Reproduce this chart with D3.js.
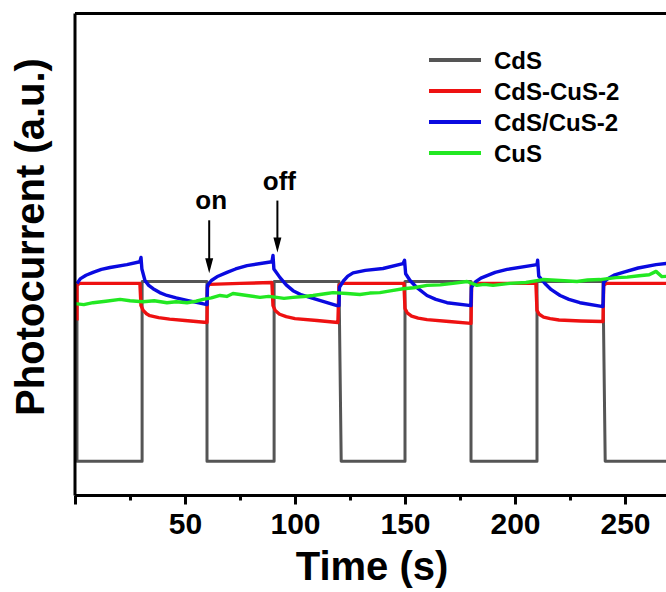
<!DOCTYPE html>
<html>
<head>
<meta charset="utf-8">
<script src="https://cdn.jsdelivr.net/npm/d3@7"></script>
<style>
  body { margin: 0; background: #fff; }
  svg { display: block; font-family: "Liberation Sans", Arial, sans-serif; font-weight: bold; }
</style>
</head>
<body>
<svg width="666" height="592"></svg>
<script>
// series: [time (s), photocurrent (a.u.)]
const seriesNames = ["CdS", "CdS-CuS-2", "CdS/CuS-2", "CuS"];
const seriesColors = ["#555555", "#ee1111", "#0a0ae0", "#22e822"];

const cds = [[0.9, 4.40], [0.9, 0.71], [30.5, 0.71], [30.5, 4.44], [60, 4.44], [60, 0.71], [90.5, 0.71], [90.5, 4.44],
  [120, 4.44], [121, 0.71], [150, 0.71], [150, 4.44], [180, 4.44], [180, 0.71], [210, 0.71], [210, 4.44],
  [240, 4.44], [241, 0.71], [272, 0.71]];

const cdsCus = [[0.9, 3.63], [0.9, 4.36], [2, 4.40], [29.5, 4.40], [30, 3.94], [31, 3.84], [32.5, 3.77], [34, 3.73],
  [38, 3.69], [43, 3.66], [50, 3.63], [60, 3.59], [60.2, 4.32], [61, 4.38], [75, 4.40], [89.5, 4.42], [90, 3.94],
  [91, 3.84], [93, 3.76], [96, 3.71], [100, 3.67], [110, 3.63], [119.5, 3.59], [120, 4.36], [121, 4.40],
  [149.5, 4.40], [150, 3.88], [151, 3.79], [153, 3.72], [156, 3.68], [160, 3.65], [170, 3.61], [180, 3.57],
  [180.3, 4.40], [209.5, 4.40], [210, 3.84], [211, 3.76], [213, 3.70], [216, 3.67], [220, 3.64], [230, 3.62],
  [240, 3.61], [240.3, 4.36], [241.5, 4.40], [272, 4.40]];

const cdsSlashCus = [[0.9, 4.40], [2.5, 4.50], [5, 4.57], [8.2, 4.63], [12, 4.69], [15.9, 4.73], [23.6, 4.79],
  [29.5, 4.85], [30, 4.94], [30.4, 4.70], [31.8, 4.46], [33.5, 4.36], [35.5, 4.29], [38.5, 4.21], [41.8, 4.15],
  [46, 4.10], [50.9, 4.05], [60, 3.96], [60.2, 4.36], [62, 4.46], [65, 4.55], [69.1, 4.63], [73, 4.70], [78.2, 4.77],
  [89.5, 4.85], [90, 4.98], [90.4, 4.70], [93.2, 4.52], [96, 4.37], [99.1, 4.25], [103, 4.16], [108.2, 4.09],
  [119.1, 3.94], [120, 3.94], [120.2, 4.32], [122, 4.45], [124, 4.55], [126.4, 4.62], [132, 4.67], [140, 4.71],
  [149.1, 4.81], [149.8, 4.88], [150.3, 4.60], [152.3, 4.46], [155, 4.33], [160, 4.15], [164, 4.07], [169.1, 4.00],
  [180, 3.94], [180.2, 4.32], [182, 4.43], [184.5, 4.51], [187.3, 4.56], [191, 4.63], [196.4, 4.69], [210, 4.79],
  [210.3, 4.88], [210.8, 4.55], [213.6, 4.40], [216.5, 4.27], [220.5, 4.15], [224.5, 4.07], [229.5, 4.00],
  [240, 3.92], [240.3, 4.42], [242, 4.49], [245, 4.57], [249.1, 4.63], [256, 4.72], [264.1, 4.79], [272, 4.83]];

const cus = [[0, 3.98], [4, 3.96], [8.2, 4.00], [14, 4.03], [20.5, 4.07], [25, 4.04], [30.9, 4.02], [36, 4.04],
  [41.8, 4.00], [46, 4.02], [50.9, 4.00], [55, 4.03], [58.2, 4.07], [62, 4.10], [65.9, 4.15], [69, 4.13],
  [71.8, 4.19], [75, 4.17], [78.2, 4.15], [84.1, 4.11], [88, 4.13], [91.8, 4.11], [95, 4.09], [99.1, 4.11],
  [104, 4.13], [108.2, 4.15], [114.5, 4.19], [117.3, 4.21], [123.6, 4.19], [129.5, 4.17], [134, 4.20],
  [138.6, 4.21], [144, 4.25], [149.1, 4.29], [154, 4.31], [160, 4.36], [166, 4.37], [171.8, 4.40], [178.2, 4.44],
  [182.7, 4.36], [186, 4.38], [190, 4.36], [197.7, 4.40], [205, 4.42], [212.7, 4.48], [220.5, 4.46],
  [228.2, 4.44], [233, 4.47], [238.6, 4.48], [245.9, 4.52], [251, 4.53], [256.4, 4.56], [261, 4.58],
  [264.1, 4.65], [266.8, 4.54], [272, 4.56]];

const xMajor = [0, 50, 100, 150, 200, 250];
const xMinor = [25, 75, 125, 175, 225];

// light on / off markers: time, value at arrow tip
const marks = [{ label: "on", t: 61, tip: 4.61, len: 53 }, { label: "off", t: 92, tip: 5.04, len: 52 }];

const svg = d3.select("svg"),
  margin = { top: 13.5, right: -3, bottom: 96.5, left: 75 },
  width = 666 - margin.left - margin.right,
  height = 592 - margin.top - margin.bottom;

const xScale = d3.scaleLinear().domain([0, 270]).range([0, width]);
const yScale = d3.scaleLinear().domain([0, 10]).range([height, 0]);

svg.append("defs").append("clipPath").attr("id", "clip")
  .append("rect").attr("x", 0).attr("y", 0).attr("width", width).attr("height", height);

const g = svg.append("g")
  .attr("transform", "translate(" + margin.left + "," + margin.top + ")");

const line = d3.line().x(d => xScale(d[0])).y(d => yScale(d[1]));

const plot = g.append("g").attr("clip-path", "url(#clip)");
[cds, cdsCus, cdsSlashCus, cus].forEach((data, i) => {
  plot.append("path")
    .datum(data)
    .attr("fill", "none")
    .attr("stroke", seriesColors[i])
    .attr("stroke-width", i === 0 ? 3 : 3.4)
    .attr("stroke-linejoin", "round")
    .attr("d", line);
});

// frame: top line, left and bottom axes
g.append("line").attr("x1", 0).attr("x2", width).attr("y1", 0).attr("y2", 0)
  .attr("stroke", "#000").attr("stroke-width", 3);
g.append("line").attr("x1", 0).attr("x2", 0).attr("y1", 0).attr("y2", height)
  .attr("stroke", "#000").attr("stroke-width", 3);

const xAxis = g.append("g")
  .attr("class", "x-axis")
  .attr("transform", "translate(0," + height + ")")
  .call(d3.axisBottom(xScale).tickValues(xMajor).tickSize(9).tickPadding(8.5)
    .tickFormat(d => d === 0 ? "" : d));
xAxis.select(".domain").attr("stroke-width", 3).attr("d", "M0,0H" + width);
xAxis.selectAll(".tick line").attr("stroke-width", 3);
xAxis.selectAll("text").style("font-size", "30px").style("font-family", null).attr("fill", "#000");

const xMinorAxis = g.append("g")
  .attr("transform", "translate(0," + height + ")")
  .call(d3.axisBottom(xScale).tickValues(xMinor).tickSize(5).tickFormat(""));
xMinorAxis.select(".domain").remove();
xMinorAxis.selectAll(".tick line").attr("stroke-width", 3);

// axis titles
svg.append("text")
  .attr("x", 372).attr("y", 580)
  .attr("text-anchor", "middle")
  .style("font-size", "40px")
  .text("Time (s)");

svg.append("text")
  .attr("transform", "translate(43.5,237) rotate(-90)")
  .attr("text-anchor", "middle")
  .style("font-size", "40px")
  .text("Photocurrent (a.u.)");

// on / off arrows
marks.forEach(m => {
  const x = margin.left + xScale(m.t), tipY = margin.top + yScale(m.tip);
  svg.append("line")
    .attr("x1", x).attr("x2", x).attr("y1", tipY - m.len).attr("y2", tipY - 12)
    .attr("stroke", "#000").attr("stroke-width", 2);
  svg.append("path")
    .attr("d", "M" + (x - 4) + "," + (tipY - 15) + "L" + (x + 4) + "," + (tipY - 15) + "L" + x + "," + tipY + "Z")
    .attr("fill", "#000");
  svg.append("text")
    .attr("x", x + 2).attr("y", tipY - m.len - 11)
    .attr("text-anchor", "middle")
    .style("font-size", "26px")
    .text(m.label);
});

// legend
const legend = svg.append("g").attr("transform", "translate(429,60)");
seriesNames.forEach((name, i) => {
  const row = legend.append("g").attr("transform", "translate(0," + i * 31 + ")");
  row.append("line").attr("x1", 0).attr("x2", 52).attr("y1", 0).attr("y2", 0)
    .attr("stroke", seriesColors[i]).attr("stroke-width", 4);
  row.append("text").attr("x", 65).attr("y", 8.5)
    .style("font-size", "24px")
    .text(name);
});
</script>
</body>
</html>
